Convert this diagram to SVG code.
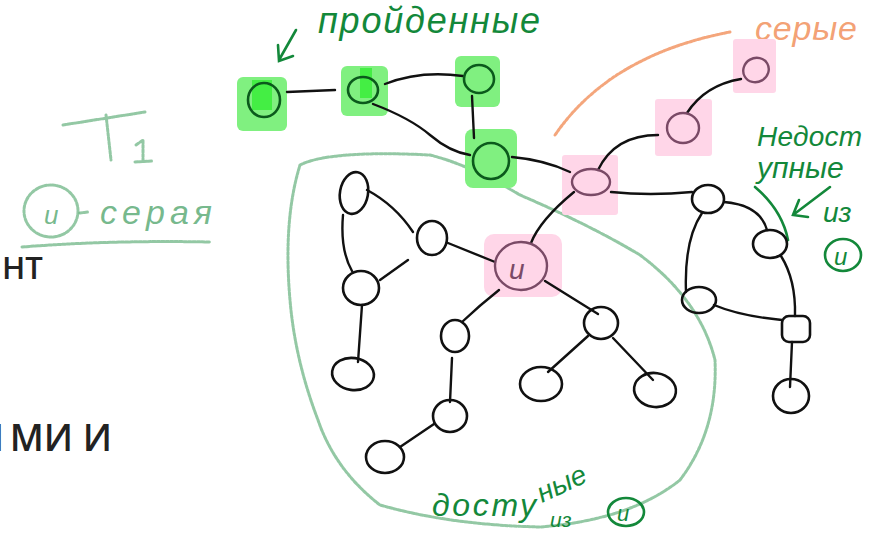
<svg xmlns="http://www.w3.org/2000/svg" width="875" height="535" viewBox="0 0 875 535">
<style>
.n{fill:none;stroke:#111;stroke-width:2.6}
.gn{fill:none;stroke:#0b5a1c;stroke-width:2.6}
.pn{fill:none;stroke:#7a4a66;stroke-width:2.4}
.e{fill:none;stroke:#111;stroke-width:2.4;stroke-linecap:round}
.gh{fill:#80f080}
.gb{fill:#44ee44}
.ph{fill:#ffd6e8}
.hw{fill:#13883a;font-family:"Liberation Sans",sans-serif;font-style:italic}
.chalk{fill:none;stroke:#3a9a5a;stroke-opacity:0.55;stroke-width:3;stroke-linecap:round;stroke-dasharray:3 1.5}
.ct{fill:#3a9a5a;fill-opacity:0.7;font-family:"Liberation Sans",sans-serif;font-style:italic}
.ink{fill:none;stroke:#13883a;stroke-width:2.6;stroke-linecap:round}
.big{fill:#222;font-family:"Open Sans",sans-serif;font-weight:600}
</style>
<rect width="875" height="535" fill="#fff"/>

<!-- left cropped texts -->
<text class="big" x="2" y="279" font-size="31">НТ</text>
<text class="big" x="112" y="451" font-size="37" text-anchor="end">МИ И</text>
<text class="big" x="4" y="451" font-size="37" text-anchor="end">И</text>

<!-- T1 / и - серая note -->
<g id="note-t1">
<path class="chalk" d="M63,125 L145,112 M106,115 L111,160"/>
<path class="chalk" d="M136,145 L143,140 L143,160 M135,162 L152,161"/>
<ellipse class="chalk" cx="51" cy="211" rx="27" ry="26"/>
<text class="ct" x="44" y="224" font-size="26">и</text>
<path class="chalk" d="M80,213 L88,212"/>
<text class="ct" x="100" y="224" font-size="34" textLength="112">серая</text>
<path class="chalk" d="M22,247 Q110,240 210,242"/>
</g>

<!-- green reachable blob -->
<path class="chalk" d="M300,165 Q330,150 430,155 Q470,165 520,195 Q590,225 640,255 Q700,300 715,360 Q718,430 680,480 Q630,520 540,527 Q450,525 380,505 Q335,470 318,420 Q295,360 290,300 Q283,220 300,165 Z"/>

<!-- orange arc -->
<path d="M555,135 Q610,55 730,32" fill="none" stroke="#f08850" stroke-opacity="0.75" stroke-width="3" stroke-dasharray="3 1.5" stroke-linecap="round"/>
<text x="755" y="40" font-size="34" fill="#f08850" fill-opacity="0.8" font-family="Liberation Sans,sans-serif" font-style="italic" textLength="102">серые</text>

<!-- пройденные label -->
<g id="label-passed">
<text class="hw" x="318" y="33" font-size="36" textLength="222">пройденные</text>
<path class="ink" d="M296,30 L279,60 M278,45 L279,61 L293,56"/>
</g>

<!-- недоступные label -->
<g id="label-unreach">
<text class="hw" x="757" y="146" font-size="28" textLength="105">Недост</text>
<text class="hw" x="757" y="178" font-size="30">упные</text>
<text class="hw" x="823" y="222" font-size="28">из</text>
<ellipse class="ink" cx="843" cy="255" rx="18" ry="16"/>
<text class="hw" x="834" y="265" font-size="24">и</text>
<path class="ink" d="M830,187 L793,215 M799,200 L793,215 L808,217"/>
<path class="ink" d="M755,187 Q782,210 788,240"/>
</g>

<!-- доступные label -->
<g id="label-reach">
<text class="hw" x="432" y="516" font-size="32" textLength="104">досту</text>
<text class="hw" x="542" y="503" font-size="28" transform="rotate(-25 542 503)">ные</text>
<text class="hw" x="550" y="527" font-size="21">из</text>
<ellipse class="ink" cx="626" cy="512" rx="18" ry="14"/>
<text class="hw" x="617" y="521" font-size="22">и</text>
</g>

<!-- highlights -->
<g id="highlights">
<rect class="gh" x="237" y="77" width="50" height="54" rx="6"/>
<rect class="gb" x="252" y="80" width="20" height="30"/>
<rect class="gh" x="341" y="66" width="47" height="50" rx="6"/>
<rect class="gb" x="360" y="68" width="12" height="30"/>
<rect class="gh" x="455" y="56" width="45" height="51" rx="6"/>
<rect class="gh" x="465" y="129" width="52" height="59" rx="8"/>
<rect class="ph" x="733" y="39" width="43" height="54" rx="3"/>
<rect class="ph" x="655" y="99" width="57" height="57" rx="3"/>
<rect class="ph" x="562" y="155" width="56" height="60" rx="3"/>
<rect class="ph" x="484" y="234" width="78" height="63" rx="10"/>
</g>

<!-- connectors -->
<g id="edges">
<path class="e" d="M287,92 L335,90"/>
<path class="e" d="M385,84 Q420,70 463,76"/>
<path class="e" d="M373,104 Q410,118 430,135 Q450,152 470,155"/>
<path class="e" d="M472,96 L474,138"/>
<path class="e" d="M512,157 Q545,160 570,172"/>
<path class="e" d="M598,170 Q615,135 658,135"/>
<path class="e" d="M687,113 Q705,85 741,79"/>
<path class="e" d="M574,192 Q540,220 531,243"/>
<path class="e" d="M611,192 Q650,196 692,192"/>
<path class="e" d="M724,202 Q760,205 767,230"/>
<path class="e" d="M702,213 Q684,240 686,292"/>
<path class="e" d="M781,256 Q796,280 795,316"/>
<path class="e" d="M714,305 Q740,316 782,320"/>
<path class="e" d="M792,342 L790,387"/>
<path class="e" d="M367,190 Q395,205 413,232"/>
<path class="e" d="M343,215 Q340,250 352,271"/>
<path class="e" d="M408,260 L380,280"/>
<path class="e" d="M448,243 L495,262"/>
<path class="e" d="M362,305 L358,362"/>
<path class="e" d="M499,290 Q480,305 462,322"/>
<path class="e" d="M545,281 L598,314"/>
<path class="e" d="M452,358 L450,402"/>
<path class="e" d="M434,424 L400,447"/>
<path class="e" d="M588,336 L548,372"/>
<path class="e" d="M613,338 L653,380"/>
</g>

<!-- nodes -->
<g id="g1"><ellipse class="gn" cx="264" cy="100" rx="16" ry="17"/></g>
<g id="g2"><ellipse class="gn" cx="363" cy="90" rx="15" ry="13"/></g>
<g id="g3"><ellipse class="gn" cx="479" cy="79" rx="15" ry="14"/></g>
<g id="g4"><ellipse class="gn" cx="491" cy="161" rx="18" ry="18"/></g>
<g id="p1"><ellipse class="pn" cx="756" cy="70" rx="13" ry="12" transform="rotate(-30 756 70)"/></g>
<g id="p2"><ellipse class="pn" cx="683" cy="128" rx="16" ry="15"/></g>
<g id="p3"><ellipse class="pn" cx="591" cy="182" rx="19" ry="13"/></g>
<g id="u"><ellipse class="pn" cx="521" cy="266" rx="26" ry="24"/><text x="509" y="279" font-size="28" fill="#7a4a66" font-family="Liberation Sans,sans-serif" font-style="italic">и</text></g>
<g id="a"><ellipse class="n" cx="354" cy="193" rx="14" ry="21" transform="rotate(10 354 193)"/></g>
<g id="b"><ellipse class="n" cx="432" cy="238" rx="15" ry="17"/></g>
<g id="c"><ellipse class="n" cx="361" cy="288" rx="18" ry="17"/></g>
<g id="d"><ellipse class="n" cx="353" cy="374" rx="21" ry="16" transform="rotate(8 353 374)"/></g>
<g id="e"><ellipse class="n" cx="455" cy="336" rx="14" ry="16"/></g>
<g id="f"><ellipse class="n" cx="601" cy="323" rx="17" ry="16"/></g>
<g id="gg"><ellipse class="n" cx="541" cy="384" rx="21" ry="17"/></g>
<g id="h"><ellipse class="n" cx="655" cy="390" rx="21" ry="17" transform="rotate(8 655 390)"/></g>
<g id="i"><ellipse class="n" cx="450" cy="416" rx="17" ry="16"/></g>
<g id="j"><ellipse class="n" cx="385" cy="457" rx="19" ry="16"/></g>
<g id="k"><ellipse class="n" cx="708" cy="199" rx="16" ry="14"/></g>
<g id="l"><ellipse class="n" cx="770" cy="244" rx="17" ry="14"/></g>
<g id="m"><ellipse class="n" cx="699" cy="300" rx="17" ry="13"/></g>
<g id="nn"><rect class="n" x="782" y="316" width="28" height="26" rx="7"/></g>
<g id="o"><ellipse class="n" cx="791" cy="396" rx="18" ry="17"/></g>
</svg>
